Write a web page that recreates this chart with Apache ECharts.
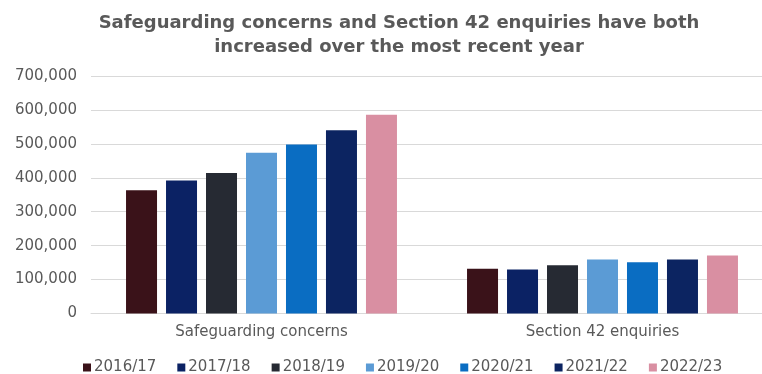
<!DOCTYPE html>
<html>
<head>
<meta charset="utf-8">
<script src="https://cdn.jsdelivr.net/npm/echarts@6/dist/echarts.min.js"></script>
<style>
  html, body { margin: 0; padding: 0; background: #fff; }
  #chart { width: 762px; height: 374px; }
</style>
</head>
<body>
<div id="chart"></div>
<script>
// Adult safeguarding activity by year
const categories = ['Safeguarding concerns', 'Section 42 enquiries'];
const years = ['2016/17', '2017/18', '2018/19', '2019/20', '2020/21', '2021/22', '2022/23'];
const concerns = [363000, 392000, 414000, 474000, 498000, 540000, 586000];
const enquiries = [132000, 130000, 142000, 159000, 151000, 159000, 171000];
const yearColors = ['#3a1219', '#0b2264', '#262a33', '#5b9bd5', '#0a6dc2', '#0c2461', '#d98fa2'];

const font = 'DejaVu Sans';
const grey = '#595959';

const series = years.map((y, i) => ({
  name: y,
  type: 'bar',
  data: [concerns[i], enquiries[i]],
  barWidth: 31,
  barGap: '29%',
  itemStyle: { color: yearColors[i] }
}));

const chart = echarts.init(document.getElementById('chart'));
chart.setOption({
  animation: false,
  title: {
    text: 'Safeguarding concerns and Section 42 enquiries have both\nincreased over the most recent year',
    left: 394,
    textAlign: 'center',
    top: 6,
    textStyle: { fontFamily: font, fontWeight: 'bold', fontSize: 18, color: grey, lineHeight: 24 }
  },
  legend: {
    data: years,
    left: 83,
    top: 360,
    width: 720,
    padding: 0,
    icon: 'rect',
    itemWidth: 8,
    itemHeight: 8,
    itemGap: 21,
    textStyle: { fontFamily: font, fontSize: 15, color: grey, padding: [0, 0, 0, -2] }
  },
  grid: { left: 91, width: 682, top: 76, bottom: 60.5, outerBoundsMode: 'none' },
  xAxis: {
    type: 'category',
    data: categories,
    axisTick: { show: false },
    axisLine: { lineStyle: { color: '#d9d9d9' } },
    axisLabel: { fontFamily: font, fontSize: 15, color: grey, margin: 11 }
  },
  yAxis: {
    type: 'value',
    min: 0,
    max: 700000,
    interval: 100000,
    axisLine: { show: false },
    axisTick: { show: false },
    splitLine: { lineStyle: { color: '#d9d9d9' } },
    axisLabel: {
      fontFamily: font, fontSize: 15, color: grey, margin: 14,
      formatter: v => v.toLocaleString('en-GB')
    }
  },
  series: series
});
</script>
</body>
</html>
